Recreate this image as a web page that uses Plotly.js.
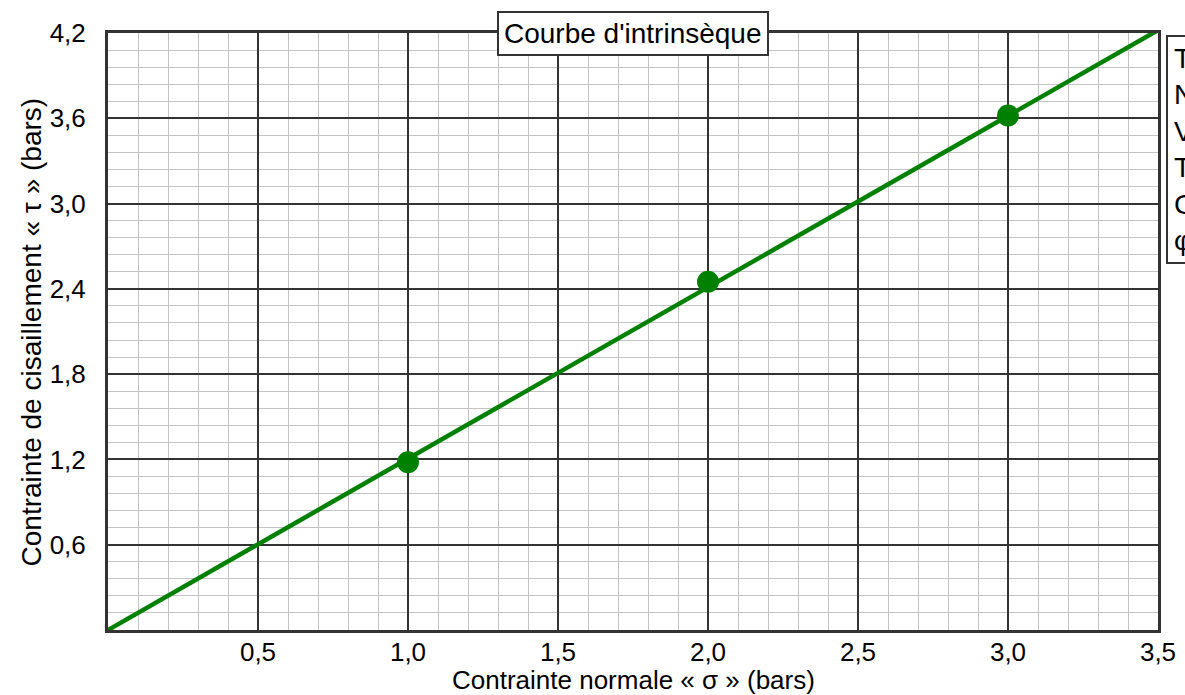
<!DOCTYPE html>
<html>
<head>
<meta charset="utf-8">
<script src="https://cdn.plot.ly/plotly-3.0.1.min.js"></script>
<style>
html,body{margin:0;padding:0;background:#fff;}
#chart{width:1185px;height:695px;}
</style>
</head>
<body>
<div id="chart"></div>
<script>
// Data
var sigma = [1.0, 2.0, 3.0];
var tau = [1.18, 2.45, 3.62];
var fitSigma = [0, 3.5];
var fitTau = [0, 4.22];
var xTickVals = [0, 0.5, 1.0, 1.5, 2.0, 2.5, 3.0, 3.5];
var xTickText = ['', '0,5', '1,0', '1,5', '2,0', '2,5', '3,0', '3,5'];
var yTickVals = [0, 0.6, 1.2, 1.8, 2.4, 3.0, 3.6, 4.2];
var yTickText = ['', '0,6', '1,2', '1,8', '2,4', '3,0', '3,6', '4,2'];
var titleText = "Courbe d'intrinsèque";
var xTitle = "Contrainte normale « σ » (bars)";
var yTitle = "Contrainte de cisaillement « τ » (bars)";
var infoLines = ["Type d'essai : cisaillement direct", "Nombre d'essais : 3", "Vitesse : 1 mm/min", "Teneur en eau : 12 %", "Cohésion c = 0 bar", "φ = 50,3°"];

var font = 'Liberation Sans, Arial, sans-serif';
var green = '#008000';

var traces = [
  {x: fitSigma, y: fitTau, mode: 'lines', line: {color: green, width: 4.5}, hoverinfo: 'skip', showlegend: false},
  {x: sigma, y: tau, mode: 'markers', marker: {color: green, size: 22}, showlegend: false, cliponaxis: false}
];

var layout = {
  width: 1185, height: 695,
  margin: {l: 108, r: 27, t: 33, b: 65},
  paper_bgcolor: '#fff', plot_bgcolor: '#fff',
  font: {family: font, color: '#000', size: 26},
  showlegend: false,
  xaxis: {
    range: [0, 3.5], fixedrange: true,
    tickmode: 'array', tickvals: xTickVals, ticktext: xTickText,
    showgrid: true, gridcolor: '#333', gridwidth: 2,
    minor: {dtick: 0.1, tick0: 0, showgrid: true, gridcolor: '#c4c4c4', gridwidth: 1},
    showline: true, linecolor: '#333', linewidth: 3, mirror: true,
    zeroline: false, ticks: '', ticklabelstandoff: -3,
    tickfont: {size: 26, family: font, color: '#000'}
  },
  yaxis: {
    range: [0, 4.2], fixedrange: true,
    tickmode: 'array', tickvals: yTickVals, ticktext: yTickText,
    showgrid: true, gridcolor: '#333', gridwidth: 2,
    minor: {dtick: 0.12, tick0: 0, showgrid: true, gridcolor: '#c4c4c4', gridwidth: 1},
    showline: true, linecolor: '#333', linewidth: 3, mirror: true,
    zeroline: false, ticks: '', ticklabelstandoff: 14,
    tickfont: {size: 26, family: font, color: '#000'}
  },
  annotations: [
    {xref: 'paper', yref: 'paper', x: 0.5, y: -0.0838, xanchor: 'center', yanchor: 'middle',
     text: xTitle, showarrow: false, borderpad: 0, font: {size: 26, family: font, color: '#000'}},
    {xref: 'paper', yref: 'paper', x: -0.0724, y: 0.5, xanchor: 'center', yanchor: 'middle', textangle: -90,
     text: yTitle, showarrow: false, font: {size: 28, family: font, color: '#000'}},
    {xref: 'paper', yref: 'paper', x: 0.5, y: 1, xanchor: 'center', yanchor: 'middle',
     text: titleText, showarrow: false, bgcolor: '#fff', bordercolor: '#333', borderwidth: 2, borderpad: 5,
     font: {size: 28, family: font, color: '#000'}},
    {xref: 'paper', yref: 'paper', x: 1.0075, y: 0.996, xanchor: 'left', yanchor: 'top', align: 'left',
     text: infoLines.join('<br>'), showarrow: false, bgcolor: '#fff', bordercolor: '#333', borderwidth: 2, borderpad: 6,
     font: {size: 28, family: font, color: '#000'}}
  ]
};

Plotly.newPlot('chart', traces, layout, {displayModeBar: false, staticPlot: true});
</script>
</body>
</html>
